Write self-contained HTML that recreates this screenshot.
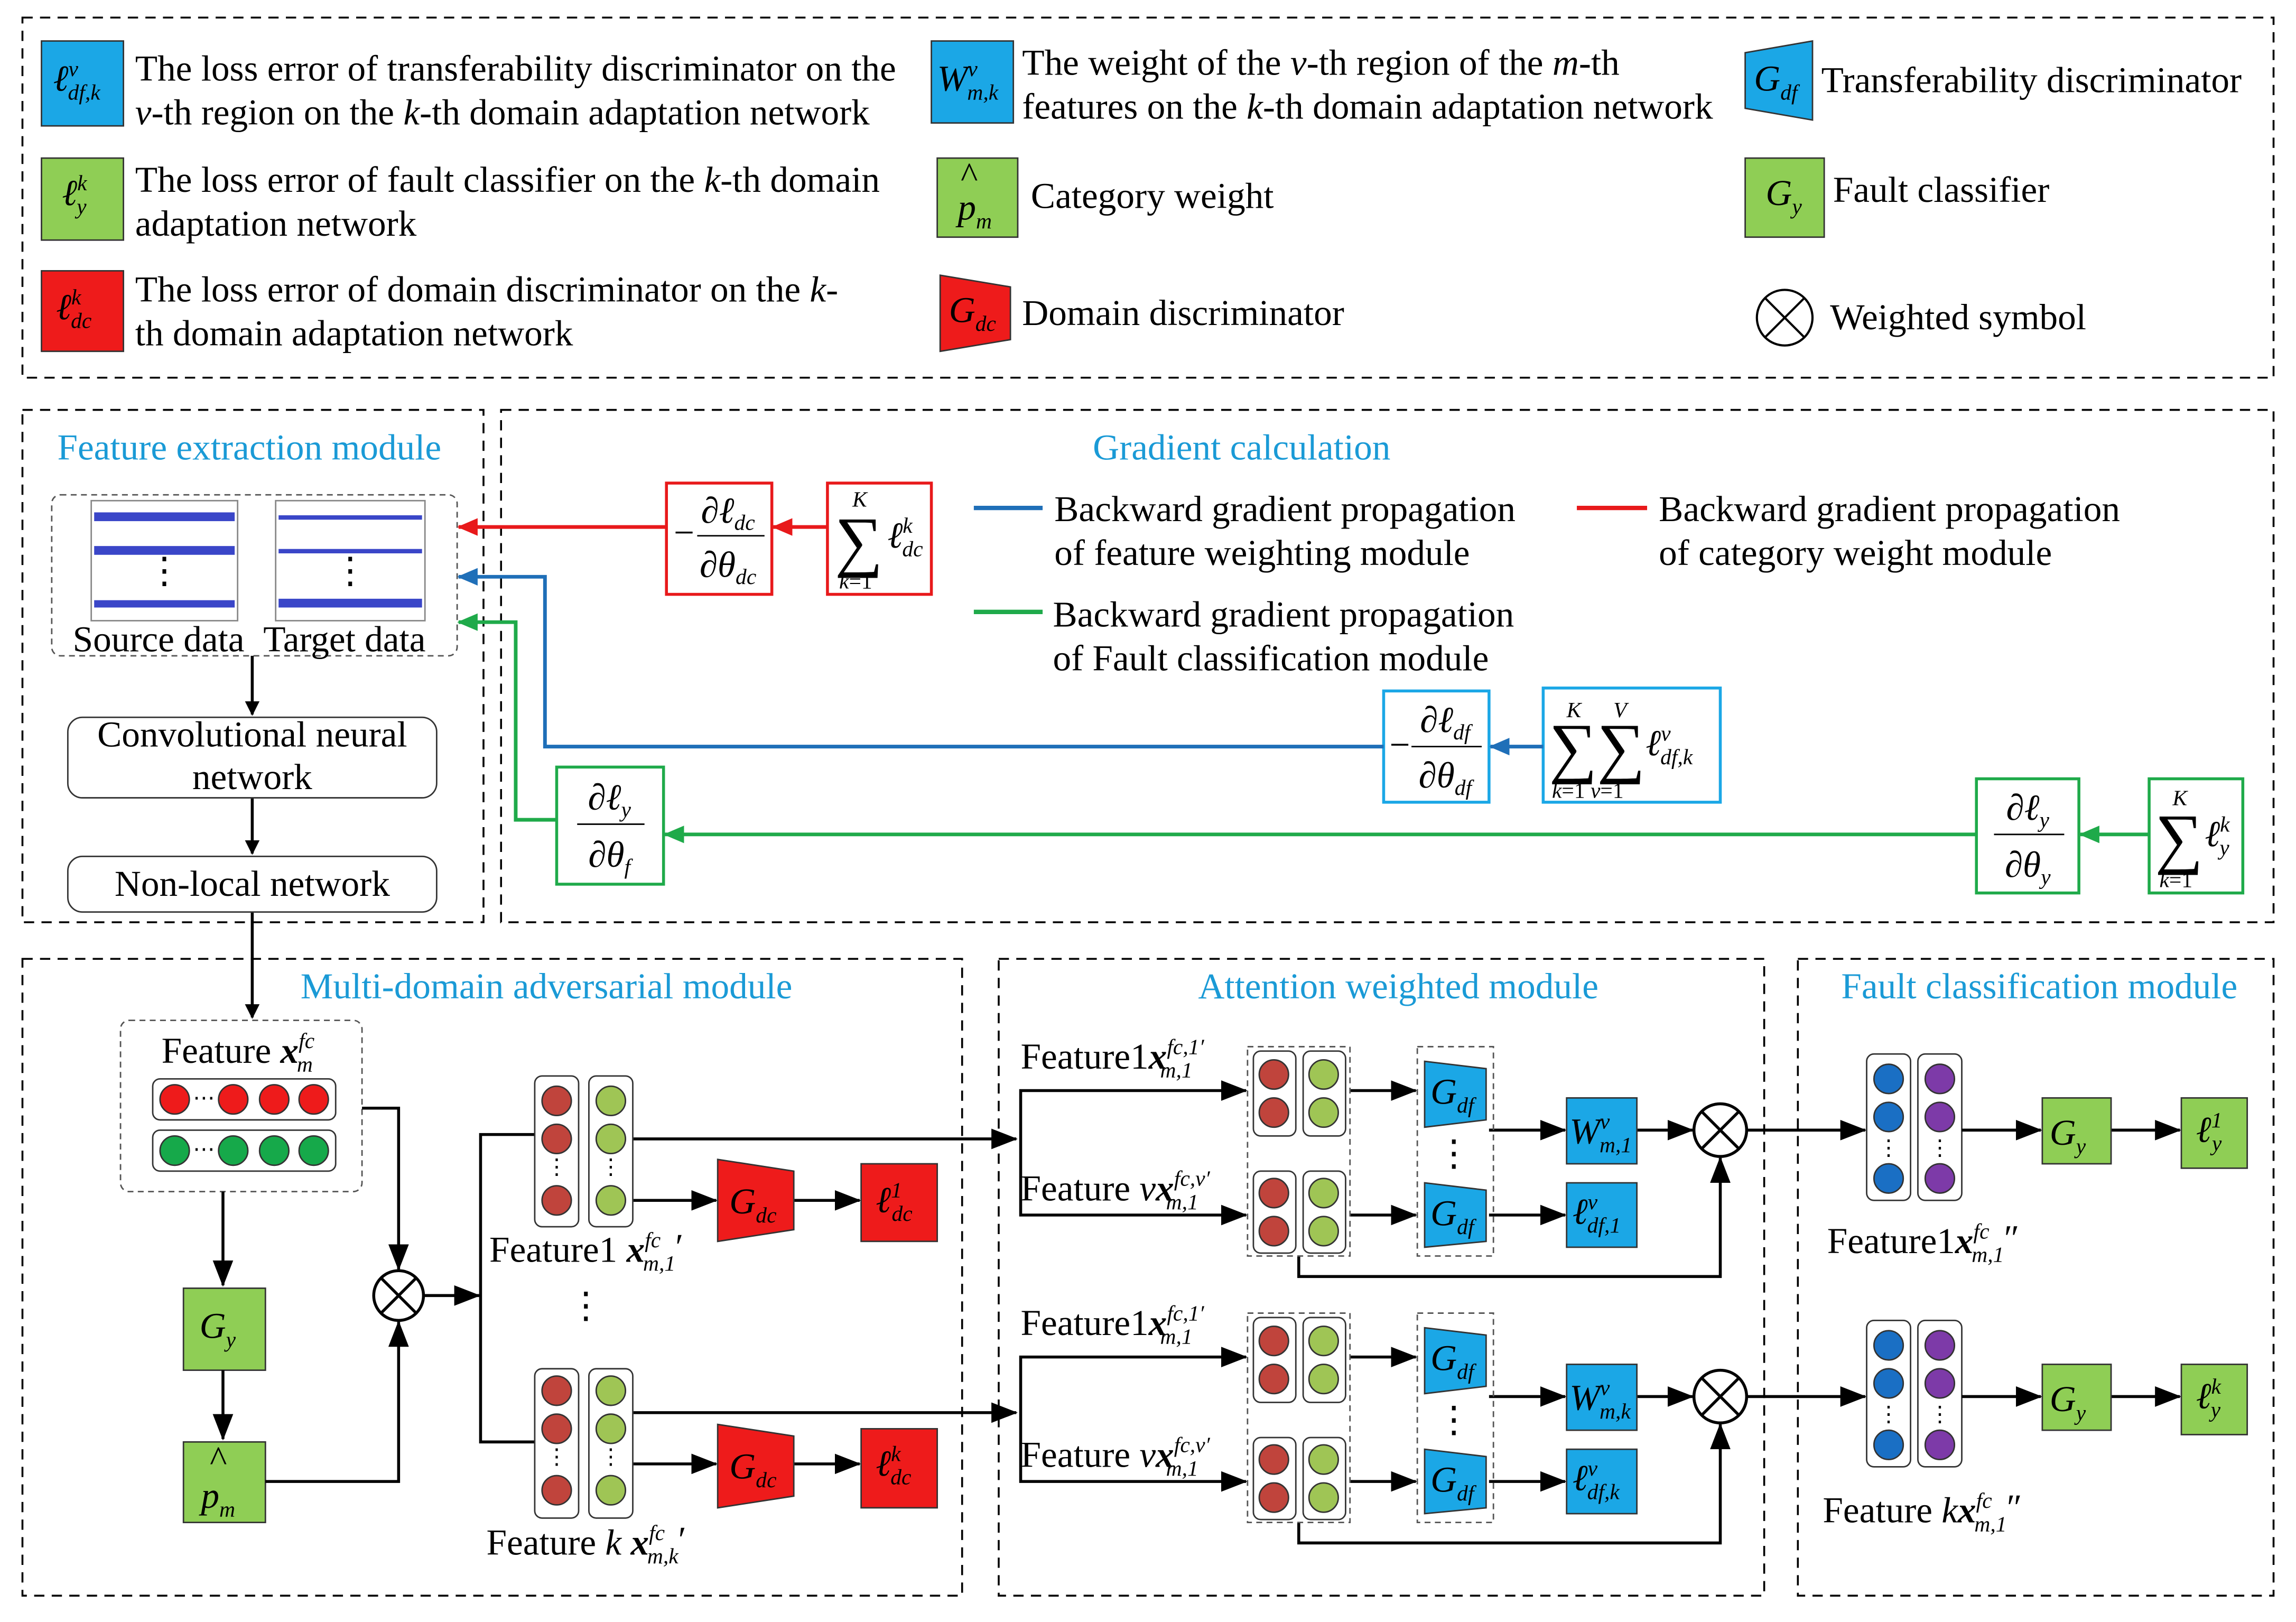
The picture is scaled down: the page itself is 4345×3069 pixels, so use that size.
<!DOCTYPE html>
<html><head><meta charset="utf-8"><style>
html,body{margin:0;padding:0;background:#fff}
svg{display:block}
text{font-family:"Liberation Serif",serif;font-size:25px;fill:#000}
.t{fill:#1a9ad6;font-size:25px}
.i{font-style:italic}
.s{font-size:15px}
.sum{font-size:46px}
</style></head><body>
<svg width="4345" height="3069" viewBox="0 0 1568 1108" xmlns="http://www.w3.org/2000/svg">
<defs>
<marker id="ak" markerWidth="10" markerHeight="10" refX="9" refY="5" orient="auto" markerUnits="userSpaceOnUse"><path d="M0,0 L10,5 L0,10z" fill="#000"/></marker>
<marker id="ar" markerWidth="14" markerHeight="12" refX="13" refY="6" orient="auto" markerUnits="userSpaceOnUse"><path d="M0,0 L14,6 L0,12z" fill="#e8191b"/></marker>
<marker id="ab" markerWidth="14" markerHeight="12" refX="13" refY="6" orient="auto" markerUnits="userSpaceOnUse"><path d="M0,0 L14,6 L0,12z" fill="#1f6fb8"/></marker>
<marker id="ag" markerWidth="14" markerHeight="12" refX="13" refY="6" orient="auto" markerUnits="userSpaceOnUse"><path d="M0,0 L14,6 L0,12z" fill="#1faa4a"/></marker>
<marker id="ak2" markerWidth="18" markerHeight="14" refX="17" refY="7" orient="auto" markerUnits="userSpaceOnUse"><path d="M0,0 L18,7 L0,14z" fill="#000"/></marker>
</defs>
<g fill="none" stroke="#000" stroke-width="1.3" stroke-dasharray="7,5">
<rect x="15" y="12" width="1538" height="246"/>
<rect x="15" y="280" width="315" height="350"/>
<rect x="342" y="280" width="1211" height="350"/>
<rect x="15" y="655" width="642" height="435"/>
<rect x="682" y="655" width="523" height="435"/>
<rect x="1228" y="655" width="325" height="435"/>
</g>
<!-- Legend -->
<rect x="28" y="28" width="56" height="58" fill="#1ba7e6" stroke="#333"/>
<text x="36" y="62" class="i">ℓ<tspan class="s" dy="-10">v</tspan><tspan class="s" dx="-7" dy="16">df,k</tspan></text>
<text x="92" y="55">The loss error of transferability discriminator on the</text>
<text x="92" y="85"><tspan class="i">v</tspan>-th region on the <tspan class="i">k</tspan>-th domain adaptation network</text>
<rect x="28" y="108" width="56" height="56" fill="#8fce55" stroke="#333"/>
<text x="42" y="140" class="i">ℓ<tspan class="s" dy="-10">k</tspan><tspan class="s" dx="-7" dy="16">y</tspan></text>
<text x="92" y="131">The loss error of fault classifier  on the <tspan class="i">k</tspan>-th domain</text>
<text x="92" y="161">adaptation network</text>
<rect x="28" y="185" width="56" height="55" fill="#ee1b1b" stroke="#333"/>
<text x="38" y="218" class="i">ℓ<tspan class="s" dy="-10">k</tspan><tspan class="s" dx="-7" dy="16">dc</tspan></text>
<text x="92" y="206">The loss error of domain discriminator on the <tspan class="i">k</tspan>-</text>
<text x="92" y="236">th domain adaptation network</text>
<rect x="636" y="28" width="56" height="56" fill="#1ba7e6" stroke="#333"/>
<text x="640" y="62" class="i">W<tspan class="s" dy="-10">v</tspan><tspan class="s" dx="-7" dy="16">m,k</tspan></text>
<text x="698" y="51">The weight of the <tspan class="i">v</tspan>-th region of the <tspan class="i">m</tspan>-th</text>
<text x="698" y="81">features on the <tspan class="i">k</tspan>-th domain adaptation network</text>
<rect x="640" y="108" width="55" height="54" fill="#8fce55" stroke="#333"/>
<text x="656" y="128">^</text>
<text x="654" y="150" class="i">p<tspan class="s" dy="6">m</tspan></text>
<text x="704" y="142">Category weight</text>
<path d="M642,188 L690,196 L690,232 L642,240z" fill="#ee1b1b" stroke="#333"/>
<text x="648" y="220" class="i">G<tspan class="s" dy="6">dc</tspan></text>
<text x="698" y="222">Domain discriminator</text>
<path d="M1192,36 L1238,28 L1238,82 L1192,74z" fill="#1ba7e6" stroke="#333"/>
<text x="1198" y="62" class="i">G<tspan class="s" dy="6">df</tspan></text>
<text x="1244" y="63">Transferability discriminator</text>
<rect x="1192" y="108" width="54" height="54" fill="#8fce55" stroke="#333"/>
<text x="1206" y="140" class="i">G<tspan class="s" dy="6">y</tspan></text>
<text x="1252" y="138">Fault classifier</text>
<g stroke="#000" stroke-width="1.5" fill="none"><circle cx="1219" cy="217" r="19"/><path d="M1206,204 L1232,230 M1232,204 L1206,230"/></g>
<text x="1250" y="225">Weighted symbol</text>
<!-- Feature extraction -->
<text x="170" y="314" class="t" text-anchor="middle">Feature extraction module</text>
<rect x="35" y="338" width="277" height="110" rx="6" fill="none" stroke="#555" stroke-dasharray="4,3"/>
<g fill="#fff" stroke="#888"><rect x="62" y="342" width="100" height="82"/><rect x="188" y="342" width="102" height="82"/></g>
<g fill="#3a46c8">
<rect x="64" y="350" width="96" height="6"/><rect x="64" y="373" width="96" height="6"/><rect x="64" y="410" width="96" height="5"/>
<rect x="190" y="352" width="98" height="3"/><rect x="190" y="375" width="98" height="3"/><rect x="190" y="409" width="98" height="6"/>
</g>
<text x="112" y="398" text-anchor="middle">⋮</text><text x="239" y="398" text-anchor="middle">⋮</text>
<text x="108" y="445" text-anchor="middle">Source data</text>
<text x="235" y="445" text-anchor="middle">Target data</text>
<g stroke="#000" stroke-width="2" marker-end="url(#ak)">
<line x1="172" y1="448" x2="172" y2="488"/><line x1="172" y1="545" x2="172" y2="583"/><line x1="172" y1="623" x2="172" y2="695"/>
</g>
<rect x="46" y="490" width="252" height="55" rx="10" fill="#fff" stroke="#333"/>
<text x="172" y="510" text-anchor="middle">Convolutional neural</text>
<text x="172" y="539" text-anchor="middle">network</text>
<rect x="46" y="585" width="252" height="38" rx="10" fill="#fff" stroke="#333"/>
<text x="172" y="612" text-anchor="middle">Non-local network</text>
<!-- Gradient -->
<text x="848" y="314" class="t" text-anchor="middle">Gradient calculation</text>
<rect x="455" y="330" width="72" height="76" fill="#fff" stroke="#e8191b" stroke-width="2"/>
<text x="460" y="372">−</text>
<text x="497" y="357" class="i" text-anchor="middle">∂ℓ<tspan class="s" dy="5">dc</tspan></text>
<line x1="476" y1="366" x2="522" y2="366" stroke="#000"/>
<text x="497" y="394" class="i" text-anchor="middle">∂θ<tspan class="s" dy="5">dc</tspan></text>
<rect x="565" y="330" width="71" height="76" fill="#fff" stroke="#e8191b" stroke-width="2"/>
<text x="570" y="385" class="sum">∑</text>
<text x="582" y="346" class="s i">K</text><text x="573" y="402" class="s"><tspan class="i">k</tspan>=1</text>
<text x="606" y="374" class="i">ℓ<tspan class="s" dy="-10">k</tspan><tspan class="s" dx="-7" dy="16">dc</tspan></text>
<g stroke="#e8191b" stroke-width="2.5" fill="none" marker-end="url(#ar)"><line x1="565" y1="360" x2="528" y2="360"/><line x1="455" y1="360" x2="313" y2="360"/></g>
<line x1="665" y1="347" x2="712" y2="347" stroke="#1f6fb8" stroke-width="3"/>
<text x="720" y="356">Backward gradient propagation</text><text x="720" y="386">of feature weighting module</text>
<line x1="1077" y1="347" x2="1125" y2="347" stroke="#e8191b" stroke-width="3"/>
<text x="1133" y="356">Backward gradient propagation</text><text x="1133" y="386">of category weight module</text>
<line x1="665" y1="418" x2="712" y2="418" stroke="#1faa4a" stroke-width="3"/>
<text x="719" y="428">Backward gradient propagation</text><text x="719" y="458">of Fault classification module</text>
<rect x="945" y="472" width="72" height="76" fill="#fff" stroke="#1ba7e6" stroke-width="2"/>
<text x="949" y="517">−</text>
<text x="987" y="500" class="i" text-anchor="middle">∂ℓ<tspan class="s" dy="5">df</tspan></text>
<line x1="964" y1="510" x2="1012" y2="510" stroke="#000"/>
<text x="987" y="538" class="i" text-anchor="middle">∂θ<tspan class="s" dy="5">df</tspan></text>
<rect x="1054" y="470" width="121" height="78" fill="#fff" stroke="#1ba7e6" stroke-width="2"/>
<text x="1058" y="526" class="sum">∑∑</text>
<text x="1070" y="490" class="s i">K</text><text x="1102" y="490" class="s i">V</text>
<text x="1060" y="545" class="s"><tspan class="i">k</tspan>=1 <tspan class="i">v</tspan>=1</text>
<text x="1124" y="516" class="i">ℓ<tspan class="s" dy="-10">v</tspan><tspan class="s" dx="-7" dy="16">df,k</tspan></text>
<g stroke="#1f6fb8" stroke-width="2.5" fill="none"><line x1="1054" y1="510" x2="1018" y2="510" marker-end="url(#ab)"/><polyline points="945,510 372,510 372,394 313,394" marker-end="url(#ab)"/></g>
<rect x="380" y="524" width="73" height="80" fill="#fff" stroke="#1faa4a" stroke-width="2"/>
<text x="416" y="553" class="i" text-anchor="middle">∂ℓ<tspan class="s" dy="5">y</tspan></text>
<line x1="394" y1="563" x2="440" y2="563" stroke="#000"/>
<text x="416" y="592" class="i" text-anchor="middle">∂θ<tspan class="s" dy="5">f</tspan></text>
<rect x="1350" y="532" width="70" height="78" fill="#fff" stroke="#1faa4a" stroke-width="2"/>
<text x="1385" y="560" class="i" text-anchor="middle">∂ℓ<tspan class="s" dy="5">y</tspan></text>
<line x1="1362" y1="570" x2="1410" y2="570" stroke="#000"/>
<text x="1385" y="599" class="i" text-anchor="middle">∂θ<tspan class="s" dy="5">y</tspan></text>
<rect x="1468" y="532" width="64" height="78" fill="#fff" stroke="#1faa4a" stroke-width="2"/>
<text x="1472" y="588" class="sum">∑</text>
<text x="1484" y="550" class="s i">K</text><text x="1475" y="606" class="s"><tspan class="i">k</tspan>=1</text>
<text x="1506" y="578" class="i">ℓ<tspan class="s" dy="-10">k</tspan><tspan class="s" dx="-7" dy="16">y</tspan></text>
<g stroke="#1faa4a" stroke-width="2.5" fill="none"><line x1="1468" y1="570" x2="1421" y2="570" marker-end="url(#ag)"/><line x1="1350" y1="570" x2="454" y2="570" marker-end="url(#ag)"/><polyline points="380,560 352,560 352,425 313,425" marker-end="url(#ag)"/></g>
<!-- Multi-domain -->
<text x="373" y="682" class="t" text-anchor="middle">Multi-domain adversarial module</text>
<rect x="82" y="697" width="165" height="117" rx="6" fill="none" stroke="#555" stroke-dasharray="4,3"/>
<text x="110" y="726">Feature <tspan class="i" font-weight="bold">x</tspan><tspan class="s i" dy="-10">fc</tspan><tspan class="s i" dx="-12" dy="16">m</tspan></text>
<rect x="104" y="737" width="125" height="28" rx="5" fill="#fff" stroke="#333"/>
<rect x="104" y="772" width="125" height="28" rx="5" fill="#fff" stroke="#333"/>
<g fill="#ee1b1b" stroke="#333"><circle cx="119" cy="751" r="10"/><circle cx="159" cy="751" r="10"/><circle cx="187" cy="751" r="10"/><circle cx="214" cy="751" r="10"/></g>
<g fill="#16a94a" stroke="#333"><circle cx="119" cy="786" r="10"/><circle cx="159" cy="786" r="10"/><circle cx="187" cy="786" r="10"/><circle cx="214" cy="786" r="10"/></g>
<text x="139" y="755" class="s" text-anchor="middle">⋯</text><text x="139" y="790" class="s" text-anchor="middle">⋯</text>
<rect x="125" y="880" width="56" height="56" fill="#8fce55" stroke="#333"/>
<text x="136" y="914" class="i" font-size="28">G<tspan class="s" dy="6">y</tspan></text>
<rect x="125" y="985" width="56" height="55" fill="#8fce55" stroke="#333"/>
<text x="143" y="1005">^</text><text x="137" y="1030" class="i" font-size="28">p<tspan class="s" dy="6">m</tspan></text>
<g stroke="#000" stroke-width="2" fill="none">
<line x1="152" y1="814" x2="152" y2="878" marker-end="url(#ak2)"/>
<line x1="152" y1="936" x2="152" y2="983" marker-end="url(#ak2)"/>
<polyline points="181,1012 272,1012 272,903" marker-end="url(#ak2)"/>
<polyline points="247,757 272,757 272,867" marker-end="url(#ak2)"/>
<line x1="289" y1="885" x2="327" y2="885" marker-end="url(#ak2)"/>
<polyline points="365,775 328,775 328,985 365,985"/>
<circle cx="272" cy="885" r="17"/><path d="M260,873 L284,897 M284,873 L260,897"/>
<line x1="432" y1="778" x2="694" y2="778" marker-end="url(#ak2)"/>
<line x1="432" y1="820" x2="489" y2="820" marker-end="url(#ak2)"/>
<line x1="542" y1="820" x2="587" y2="820" marker-end="url(#ak2)"/>
<line x1="432" y1="965" x2="694" y2="965" marker-end="url(#ak2)"/>
<line x1="432" y1="1000" x2="489" y2="1000" marker-end="url(#ak2)"/>
<line x1="542" y1="1000" x2="587" y2="1000" marker-end="url(#ak2)"/>
</g>
<g stroke="#333">
<rect x="365" y="735" width="30" height="103" rx="5" fill="#fff"/><rect x="402" y="735" width="30" height="103" rx="5" fill="#fff"/>
<rect x="365" y="935" width="30" height="102" rx="5" fill="#fff"/><rect x="402" y="935" width="30" height="102" rx="5" fill="#fff"/>
<g fill="#c0443c"><circle cx="380" cy="752" r="10"/><circle cx="380" cy="778" r="10"/><circle cx="380" cy="820" r="10"/><circle cx="380" cy="950" r="10"/><circle cx="380" cy="976" r="10"/><circle cx="380" cy="1018" r="10"/></g>
<g fill="#9fc555"><circle cx="417" cy="752" r="10"/><circle cx="417" cy="778" r="10"/><circle cx="417" cy="820" r="10"/><circle cx="417" cy="950" r="10"/><circle cx="417" cy="976" r="10"/><circle cx="417" cy="1018" r="10"/></g>
</g>
<text x="380" y="802" class="s" text-anchor="middle">⋮</text><text x="417" y="802" class="s" text-anchor="middle">⋮</text>
<text x="380" y="1000" class="s" text-anchor="middle">⋮</text><text x="417" y="1000" class="s" text-anchor="middle">⋮</text>
<text x="400" y="900" text-anchor="middle">⋮</text>
<path d="M490,792 L542,800 L542,840 L490,848z" fill="#ee1b1b" stroke="#333"/>
<text x="498" y="829" class="i">G<tspan class="s" dy="6">dc</tspan></text>
<rect x="588" y="795" width="52" height="53" fill="#ee1b1b" stroke="#333"/>
<text x="598" y="828" class="i">ℓ<tspan class="s" dy="-10">1</tspan><tspan class="s" dx="-7" dy="16">dc</tspan></text>
<path d="M490,973 L542,981 L542,1022 L490,1030z" fill="#ee1b1b" stroke="#333"/>
<text x="498" y="1010" class="i">G<tspan class="s" dy="6">dc</tspan></text>
<rect x="588" y="976" width="52" height="54" fill="#ee1b1b" stroke="#333"/>
<text x="598" y="1008" class="i">ℓ<tspan class="s" dy="-10">k</tspan><tspan class="s" dx="-7" dy="16">dc</tspan></text>
<text x="334" y="862">Feature1 <tspan class="i" font-weight="bold">x</tspan><tspan class="s i" dy="-10">fc</tspan><tspan class="s i" dx="-12" dy="16">m,1</tspan><tspan dy="-8">′</tspan></text>
<text x="332" y="1062">Feature <tspan class="i">k</tspan> <tspan class="i" font-weight="bold">x</tspan><tspan class="s i" dy="-10">fc</tspan><tspan class="s i" dx="-12" dy="16">m,k</tspan><tspan dy="-8">′</tspan></text>
<!-- Attention -->
<text x="955" y="682" class="t" text-anchor="middle">Attention weighted module</text>
<g id="att">
<text x="697" y="730">Feature1<tspan class="i" font-weight="bold">x</tspan><tspan class="s i" dy="-10">fc,1′</tspan><tspan class="s i" dx="-30" dy="16">m,1</tspan></text>
<text x="697" y="820">Feature <tspan class="i">v</tspan><tspan class="i" font-weight="bold">x</tspan><tspan class="s i" dy="-10">fc,v′</tspan><tspan class="s i" dx="-30" dy="16">m,1</tspan></text>
<g stroke="#000" stroke-width="2" fill="none">
<polyline points="697,778 697,745 851,745" marker-end="url(#ak2)"/>
<polyline points="697,778 697,830 851,830" marker-end="url(#ak2)"/>
<line x1="922" y1="745" x2="967" y2="745" marker-end="url(#ak2)"/>
<line x1="922" y1="830" x2="967" y2="830" marker-end="url(#ak2)"/>
<line x1="1017" y1="772" x2="1069" y2="772" marker-end="url(#ak2)"/>
<line x1="1017" y1="830" x2="1069" y2="830" marker-end="url(#ak2)"/>
<line x1="1118" y1="772" x2="1156" y2="772" marker-end="url(#ak2)"/>
<polyline points="887,858 887,872 1175,872 1175,791" marker-end="url(#ak2)"/>
<line x1="1193" y1="772" x2="1274" y2="772" marker-end="url(#ak2)"/>
<circle cx="1175" cy="772" r="18"/><path d="M1162,759 L1188,785 M1188,759 L1162,785"/>
</g>
<rect x="852" y="715" width="70" height="143" fill="none" stroke="#555" stroke-dasharray="4,3"/>
<rect x="968" y="715" width="52" height="143" fill="none" stroke="#555" stroke-dasharray="4,3"/>
<g stroke="#333">
<rect x="856" y="718" width="29" height="58" rx="5" fill="#fff"/><rect x="890" y="718" width="29" height="58" rx="5" fill="#fff"/>
<rect x="856" y="800" width="29" height="56" rx="5" fill="#fff"/><rect x="890" y="800" width="29" height="56" rx="5" fill="#fff"/>
<g fill="#c0443c"><circle cx="870" cy="734" r="10"/><circle cx="870" cy="760" r="10"/><circle cx="870" cy="815" r="10"/><circle cx="870" cy="841" r="10"/></g>
<g fill="#9fc555"><circle cx="904" cy="734" r="10"/><circle cx="904" cy="760" r="10"/><circle cx="904" cy="815" r="10"/><circle cx="904" cy="841" r="10"/></g>
</g>
<path d="M973,725 L1015,730 L1015,765 L973,770z" fill="#1ba7e6" stroke="#333"/>
<text x="977" y="754" class="i">G<tspan class="s" dy="6">df</tspan></text>
<path d="M973,808 L1015,813 L1015,848 L973,852z" fill="#1ba7e6" stroke="#333"/>
<text x="977" y="837" class="i">G<tspan class="s" dy="6">df</tspan></text>
<text x="993" y="796" text-anchor="middle">⋮</text>
<rect x="1070" y="750" width="48" height="45" fill="#1ba7e6" stroke="#333"/>
<rect x="1070" y="808" width="48" height="44" fill="#1ba7e6" stroke="#333"/>
</g>
<use href="#att" y="182"/>
<text x="1072" y="781" class="i">W<tspan class="s" dy="-10">v</tspan><tspan class="s" dx="-7" dy="16">m,1</tspan></text>
<text x="1074" y="836" class="i">ℓ<tspan class="s" dy="-10">v</tspan><tspan class="s" dx="-7" dy="16">df,1</tspan></text>
<text x="1072" y="963" class="i">W<tspan class="s" dy="-10">v</tspan><tspan class="s" dx="-7" dy="16">m,k</tspan></text>
<text x="1074" y="1018" class="i">ℓ<tspan class="s" dy="-10">v</tspan><tspan class="s" dx="-7" dy="16">df,k</tspan></text>
<!-- Fault classification -->
<text x="1393" y="682" class="t" text-anchor="middle">Fault classification module</text>
<g id="fc">
<g stroke="#333">
<rect x="1275" y="720" width="30" height="100" rx="5" fill="#fff"/><rect x="1310" y="720" width="30" height="100" rx="5" fill="#fff"/>
<g fill="#1a6fc4"><circle cx="1290" cy="737" r="10"/><circle cx="1290" cy="763" r="10"/><circle cx="1290" cy="805" r="10"/></g>
<g fill="#7d3aa8"><circle cx="1325" cy="737" r="10"/><circle cx="1325" cy="763" r="10"/><circle cx="1325" cy="805" r="10"/></g>
</g>
<text x="1290" y="789" class="s" text-anchor="middle">⋮</text><text x="1325" y="789" class="s" text-anchor="middle">⋮</text>
<g stroke="#000" stroke-width="2"><line x1="1340" y1="772" x2="1394" y2="772" marker-end="url(#ak2)"/><line x1="1442" y1="772" x2="1489" y2="772" marker-end="url(#ak2)"/></g>
<rect x="1395" y="750" width="47" height="45" fill="#8fce55" stroke="#333"/>
<text x="1400" y="782" class="i" font-size="28">G<tspan class="s" dy="6">y</tspan></text>
<rect x="1490" y="750" width="45" height="48" fill="#8fce55" stroke="#333"/>
</g>
<use href="#fc" y="182"/>
<text x="1500" y="780" class="i">ℓ<tspan class="s" dy="-10">1</tspan><tspan class="s" dx="-7" dy="16">y</tspan></text>
<text x="1500" y="962" class="i">ℓ<tspan class="s" dy="-10">k</tspan><tspan class="s" dx="-7" dy="16">y</tspan></text>
<text x="1248" y="856">Feature1<tspan class="i" font-weight="bold">x</tspan><tspan class="s i" dy="-10">fc</tspan><tspan class="s i" dx="-12" dy="16">m,1</tspan><tspan dy="-8">″</tspan></text>
<text x="1245" y="1040">Feature <tspan class="i">k</tspan><tspan class="i" font-weight="bold">x</tspan><tspan class="s i" dy="-10">fc</tspan><tspan class="s i" dx="-12" dy="16">m,1</tspan><tspan dy="-8">″</tspan></text>
</svg>
</body></html>
